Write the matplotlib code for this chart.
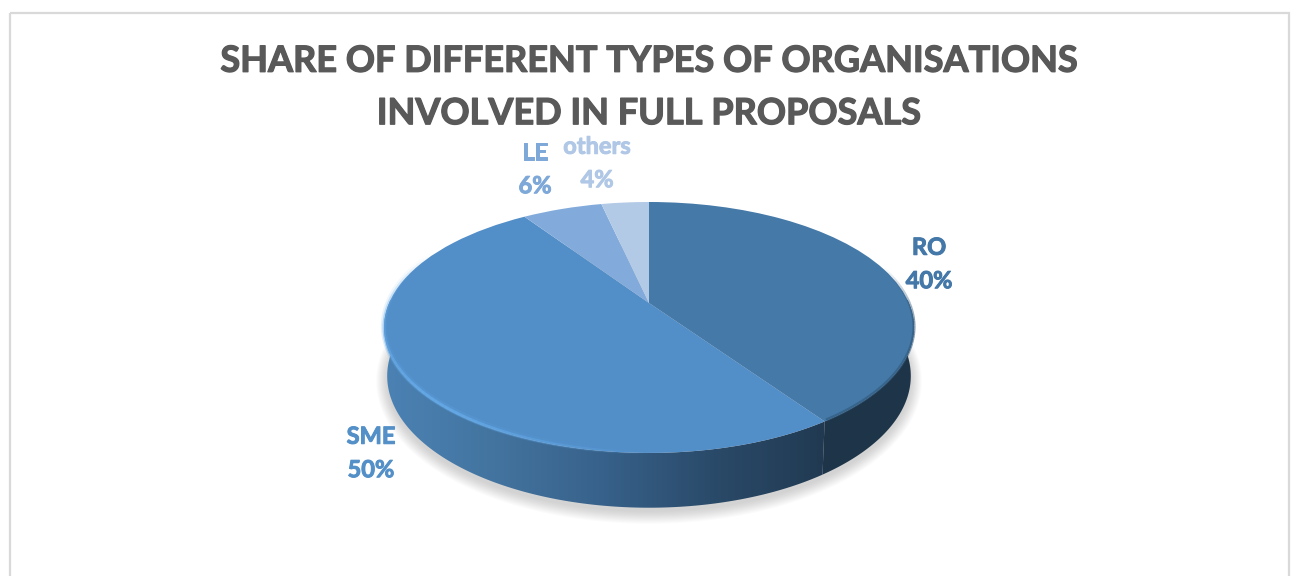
import numpy as np
import matplotlib
matplotlib.use("Agg")
import matplotlib.pyplot as plt
import matplotlib.patheffects as pe
from matplotlib.patches import Rectangle, Polygon
from matplotlib.transforms import Transform
from matplotlib.colors import LinearSegmentedColormap

categories = ["RO", "SME", "LE", "others"]
values = [40.4, 50.2, 5.9, 3.5]
percent_labels = ["40%", "50%", "6%", "4%"]
title = "SHARE OF DIFFERENT TYPES OF ORGANISATIONS\nINVOLVED IN FULL PROPOSALS"

top_colors = ["#4479a8", "#528ec8", "#82abdb", "#b3cae7"]
label_colors = ["#4478a8", "#5490c8", "#7ea8d8", "#b0c8e6"]
label_centres = [(929, 264), (371, 453), (535, 169), (597, 163)]

CX, CY, R, K, A = 649.0, 303.0, 259.9, 0.195, 120.7
DROP, WALL_SX, WALL_SY, ELL_CY = 48.5, 0.988, 1.05, 327.5

plt.rcParams["font.family"] = ["Lato", "DejaVu Sans"]


def project(u, v):
    d = 1 + K * np.asarray(v)
    return CX + R * np.asarray(u) / d, CY - A * np.asarray(v) / d


def project_low(u, v):
    x, y = project(u, v)
    return CX + WALL_SX * (x - CX), ELL_CY + DROP + WALL_SY * (y - ELL_CY)


class Perspective(Transform):
    input_dims = output_dims = 2

    def transform_non_affine(self, values):
        values = np.asarray(values)
        x, y = project(values[:, 0], values[:, 1])
        return np.column_stack([x, y])


fig = plt.figure(figsize=(12.94, 5.76), dpi=100, facecolor="white")
ax = fig.add_axes([0, 0, 1, 1])

wedges, _ = ax.pie(values, colors=top_colors, startangle=90, counterclock=False,
                   radius=1.0, wedgeprops=dict(linewidth=0))
ax.set_aspect("auto")
ax.set_xlim(0, 1294)
ax.set_ylim(576, 0)
ax.axis("off")
persp = Perspective()
for w in wedges:
    w.set_transform(persp + ax.transData)
    w.set_zorder(5)

ax.add_patch(Rectangle((10, 12.5), 1279, 580, fill=False, ec="#d9d9d9", lw=1.6, zorder=1))

# soft shadow under the pie
t = np.linspace(0, 2 * np.pi, 240)
sx, sy = project_low(np.sin(t), np.cos(t))
mx, my = sx.mean(), sy.mean()
for g in np.linspace(11, 0, 12):
    ax.add_patch(Polygon(np.column_stack([mx + (sx - mx) * (1 + g / 262),
                                          my + 4 + (sy - my) * (1 + g / 133)]),
                         fc="#808080", ec="none", alpha=0.03, zorder=2))

# side wall, one part per slice that reaches the front
fractions = np.cumsum([0] + values) / np.sum(values)
wall_cmap = {
    0: LinearSegmentedColormap.from_list("ro", ["#1e3549", "#1e3549", "#1b2f42"]),
    1: LinearSegmentedColormap.from_list("sme", ["#4b82b4", "#43749f", "#37618a", "#2a4a69", "#213a52"]),
}
for i in (0, 1):
    a = np.linspace(2 * np.pi * fractions[i], 2 * np.pi * fractions[i + 1], 200)
    u, v = np.sin(a), np.cos(a)
    xt, yt = project(u, v)
    xb, yb = project_low(u, v)
    poly = Polygon(np.column_stack([np.r_[xt, xb[::-1]], np.r_[yt, yb[::-1]]]),
                   transform=ax.transData, fc="none", ec="none", zorder=3)
    ax.add_patch(poly)
    x0, x1 = min(xt.min(), xb.min()), max(xt.max(), xb.max())
    grad = np.linspace(0, 1, 256).reshape(1, -1)
    if i == 0:
        grad = grad[:, ::-1]
    im = ax.imshow(grad, cmap=wall_cmap[i], extent=(x0, x1, 520, 300), aspect="auto",
                   zorder=3, interpolation="bilinear")
    im.set_clip_path(poly)
ax.set_xlim(0, 1294)
ax.set_ylim(576, 0)

# bevel highlight along the SME rim (front part), fading at both ends
a = np.linspace(2 * np.pi * fractions[1], 2 * np.pi * fractions[2], 360)
xr, yr = project(np.sin(a), np.cos(a))
n = len(xr)
for j in range(0, n - 3, 3):
    f = j / n
    fade = np.clip((f - 0.18) / 0.22, 0, 1) * np.clip((0.82 - f) / 0.35, 0, 1)
    if fade <= 0:
        continue
    ax.plot(xr[j:j + 4], yr[j:j + 4] - 1.5, color="#5ea4e2", lw=4.5, alpha=float(fade) * 0.28,
            zorder=6, solid_capstyle="butt")
    ax.plot(xr[j:j + 4], yr[j:j + 4] - 0.7, color="#66abe9", lw=2.2, alpha=float(fade) * 0.8,
            zorder=6, solid_capstyle="butt")

# darker bevel along the RO rim, fading in from the side
a = np.linspace(0.2 * 2 * np.pi, 2 * np.pi * fractions[1], 200)
xr, yr = project(np.sin(a), np.cos(a))
n = len(xr)
for j in range(0, n - 3, 3):
    fade = np.clip(j / (0.35 * n), 0, 1)
    ax.plot(xr[j:j + 4], yr[j:j + 4] - 0.8, color="#2f5678", lw=2.2, alpha=float(fade) * 0.6,
            zorder=6, solid_capstyle="butt")

for name, pct, c, (lx, ly) in zip(categories, percent_labels, label_colors, label_centres):
    ax.text(lx, ly, f"{name}\n{pct}", color=c, fontsize=17, fontweight="bold",
            ha="center", va="center", linespacing=1.55, zorder=8,
            path_effects=[pe.withStroke(linewidth=0.7, foreground=c)])

ax.text(649, 87.5, title, color="#595959", fontsize=26, fontweight="bold",
        ha="center", va="center", linespacing=1.72, zorder=8,
        path_effects=[pe.withStroke(linewidth=0.9, foreground="#595959")])

fig.savefig("out.png", dpi=100)
